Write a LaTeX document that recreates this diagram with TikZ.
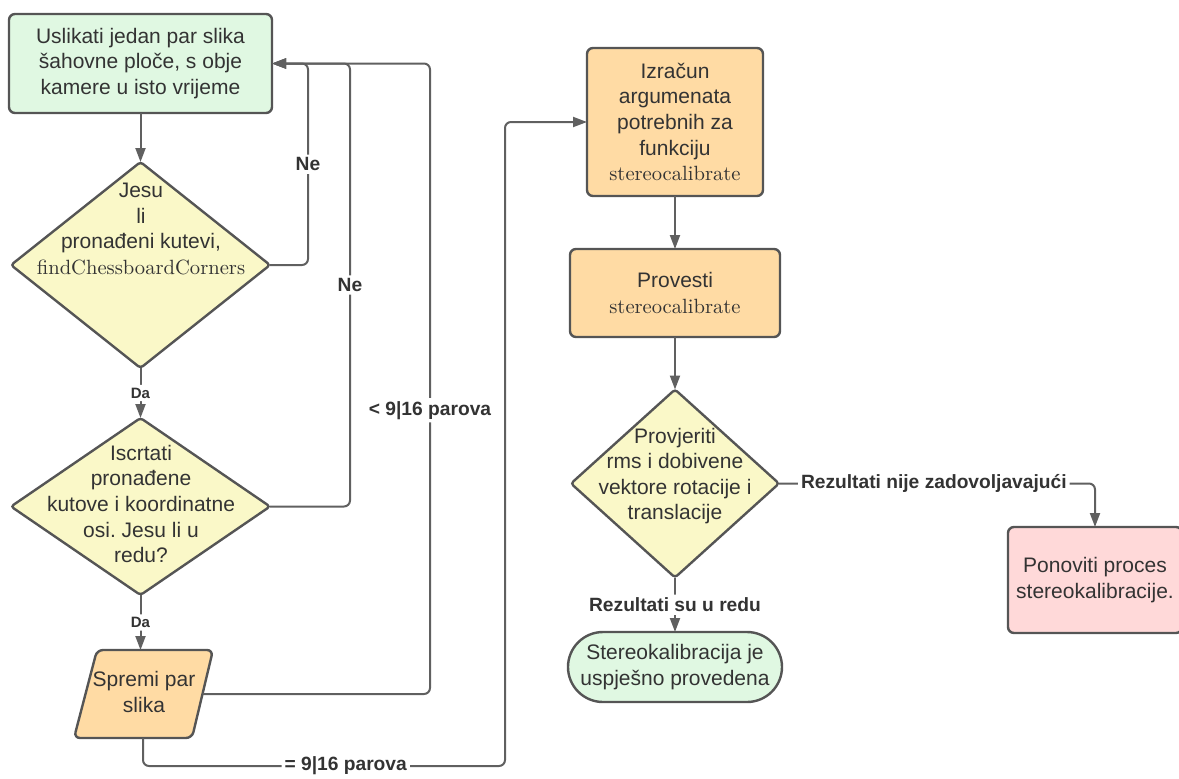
\documentclass[tikz,border=0pt]{standalone}
\usepackage{fontspec}
\setsansfont{Liberation Sans}
\usetikzlibrary{shapes.geometric,arrows.meta}
\definecolor{ln}{HTML}{606060}
\definecolor{bd}{HTML}{555555}
\definecolor{tx}{HTML}{333333}
\definecolor{gf}{HTML}{E0F8E2}
\definecolor{yf}{HTML}{FAF8C8}
\definecolor{of}{HTML}{FFDBA4}
\definecolor{pf}{HTML}{FFD9D9}
\newcommand\mainfnt{\sffamily\fontsize{10.5}{12.8}\selectfont}
\newcommand\srf{\rmfamily\fontsize{10.3}{12.8}\selectfont}
\begin{document}
\begin{tikzpicture}[x=0.5pt,y=-0.5pt,
  box/.style={draw=bd, line width=1.2pt, rounded corners=3pt, align=center, text=tx, font=\mainfnt, inner sep=0pt, outer sep=0pt},
  dia/.style={diamond, draw=bd, line width=1.2pt, fill=yf, inner sep=0pt, outer sep=0pt, rounded corners=1.5pt},
  dtext/.style={align=center, text=tx, font=\mainfnt, inner sep=0pt},
  conn/.style={draw=ln, line width=1pt, rounded corners=3pt, -{Triangle[length=7pt,width=5pt]}},
  lab/.style={fill=white, font=\sffamily\bfseries\fontsize{9.6}{11}\selectfont, text=tx, inner sep=1.5pt},
  dlab/.style={fill=white, font=\sffamily\bfseries\fontsize{7.5}{9}\selectfont, text=tx, inner sep=1.5pt}]
\useasboundingbox (0,0) rectangle (1179,778);

% left column
\node[box, fill=gf, minimum width=131.5pt, minimum height=49.5pt] (b1) at (140.5,63.5)
  {Uslikati jedan par slika\\šahovne ploče, s obje\\kamere u isto vrijeme};
\node[dia, minimum width=129.5pt, minimum height=103pt] (d1) at (140.5,265) {};
\node[dtext] (d1t) at (141,229) {Jesu\\li\\pronađeni kutevi,\\{\srf findChessboardCorners}};
\node[dia, minimum width=129.5pt, minimum height=88.5pt] (d2) at (140.5,506.5) {};
\node[dtext] (d2t) at (141,504) {Iscrtati\\pronađene\\kutove i koordinatne\\osi.\ Jesu li u\\redu?};
\draw[draw=bd, line width=1.2pt, fill=of, rounded corners=3pt] (97,650) -- (213,650) -- (192,738) -- (74,738) -- cycle;
\node[dtext] (p1) at (144,692) {Spremi par\\slika};
\coordinate (p1t) at (140.5,650);
\coordinate (p1r) at (202.5,694);
\coordinate (p1b) at (143,738);
\coordinate (j1) at (505,766);

% right column
\node[box, fill=of, minimum width=88pt, minimum height=74pt] (b3) at (675,122)
  {Izračun\\argumenata\\potrebnih za\\funkciju\\{\srf stereocalibrate}};
\node[box, fill=of, minimum width=105pt, minimum height=44pt] (b4) at (675,293)
  {Provesti\\{\srf stereocalibrate}};
\node[dia, minimum width=104pt, minimum height=94pt] (d3) at (675,483.5) {};
\node[dtext] (d3t) at (675,476) {Provjeriti\\rms i dobivene\\vektore rotacije i\\translacije};
\node[box, fill=gf, rounded corners=17.5pt, minimum width=107pt, minimum height=35pt] (t1) at (675,667)
  {Stereokalibracija je\\uspješno provedena};
\node[box, fill=pf, minimum width=87pt, minimum height=53pt] (b5) at (1095,580)
  {Ponoviti proces\\stereokalibracije.};

% connectors
\draw[conn] (b1.south) -- (d1.north);
\draw[conn] (d1.east) -- ++(38,0) |- (b1.east) node[lab, pos=0.25] {Ne};
\draw[conn] (d1.south) -- node[dlab] {Da} (d2.north);
\draw[conn] (d2.east) -- ++(80,0) |- (b1.east) node[lab, pos=0.25] {Ne};
\draw[conn] (d2.south) -- node[dlab] {Da} (p1t);
\draw[conn] (p1r) -- ++(227.5,0) |- (b1.east) node[lab, pos=0.225] {< 9|16 parova};
\draw[conn] (p1b) |- (j1) node[lab, pos=0.78] {= 9|16 parova} |- (b3.west);
\draw[conn] (b3.south) -- (b4.north);
\draw[conn] (b4.south) -- (d3.north);
\draw[conn] (d3.east) -| (b5.north) node[lab, pos=0.245] {Rezultati nije zadovoljavajući};
\draw[conn] (d3.south) -- node[lab] {Rezultati su u redu} (t1.north);
\end{tikzpicture}
\end{document}
